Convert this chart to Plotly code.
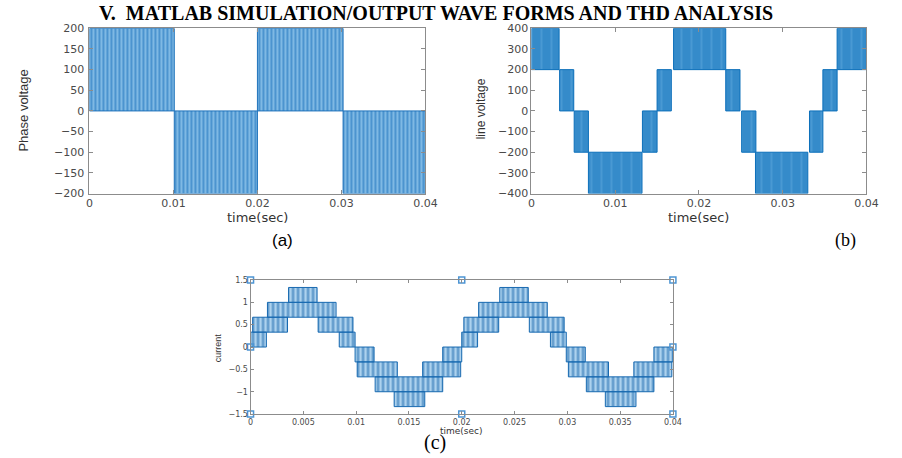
import plotly.graph_objects as go

W, H = 902, 458

# ---------------- data ----------------
# (a) phase voltage: PWM bands (start time, end time, low level, high level)
A_T0 = [0.0000, 0.0101, 0.0200, 0.0302]
A_T1 = [0.0101, 0.0200, 0.0302, 0.0400]
A_LO = [0, -200, 0, -200]
A_HI = [200, 0, 200, 0]

# (b) line voltage bands
B_T0 = [0.0000, 0.00336, 0.0051, 0.0068, 0.01325, 0.0150, 0.01697, 0.0232, 0.0251, 0.02675, 0.0332, 0.0348, 0.0365]
B_T1 = [0.00330, 0.00505, 0.0068, 0.0132, 0.0150, 0.0167, 0.0232, 0.0249, 0.0268, 0.0330, 0.0348, 0.0365, 0.0400]
B_LO = [200, 0, -200, -400, -200, 0, 200, 0, -200, -400, -200, 0, 200]
B_HI = [400, 200, 0, -200, 0, 200, 400, 200, 0, -200, 0, 200, 400]

# (c) current bands
C_T0 = [0.0000, 0.0002, 0.0016, 0.0036, 0.0064, 0.0084,
        0.0099, 0.0101, 0.0118, 0.0136, 0.0163, 0.0182,
        0.0200, 0.0202, 0.0216, 0.0236, 0.0264, 0.0284,
        0.0299, 0.0301, 0.0318, 0.0336, 0.0363, 0.0382]
C_T1 = [0.0015, 0.0035, 0.0081, 0.0063, 0.0097, 0.0099,
        0.0117, 0.0139, 0.0182, 0.0165, 0.0199, 0.0200,
        0.0215, 0.0235, 0.0281, 0.0263, 0.0297, 0.0299,
        0.0317, 0.0339, 0.0382, 0.0365, 0.0399, 0.0400]
C_LO = [0, 0.333, 0.667, 1.0, 0.333, 0,
        -0.333, -0.667, -1.0, -1.333, -0.667, -0.333,
        0, 0.333, 0.667, 1.0, 0.333, 0,
        -0.333, -0.667, -1.0, -1.333, -0.667, -0.333]
C_HI = [0.333, 0.667, 1.0, 1.333, 0.667, 0.333,
        0, -0.333, -0.667, -1.0, -0.333, 0,
        0.333, 0.667, 1.0, 1.333, 0.667, 0.333,
        0, -0.333, -0.667, -1.0, -0.333, 0]

# data-cursor markers in (c)
CUR_T = [0, 0.02, 0.04, 0, 0.04, 0, 0.02, 0.04]
CUR_Y = [1.5, 1.5, 1.5, 0, 0, -1.5, -1.5, -1.5]


def band_xy(t0s, t1s, los, his):
    xs, ys = [], []
    for t0, t1, lo, hi in zip(t0s, t1s, los, his):
        xs += [t0, t0, t1, t1, t0, None]
        ys += [lo, hi, hi, lo, lo, None]
    return xs, ys


def px_x(p):
    return p / W


def px_y(p):
    return 1 - p / H


fig = go.Figure()

ax, ay = band_xy(A_T0, A_T1, A_LO, A_HI)
fig.add_trace(go.Scatter(
    x=ax, y=ay, xaxis="x", yaxis="y", mode="lines", fill="toself",
    line=dict(color="#1f73bb", width=1),
    fillpattern=dict(shape="|", size=4, solidity=0.5, fgcolor="#1a6fb9", bgcolor="#7fb9e4"),
    hoverinfo="skip", showlegend=False))

bx, by = band_xy(B_T0, B_T1, B_LO, B_HI)
fig.add_trace(go.Scatter(
    x=bx, y=by, xaxis="x2", yaxis="y2", mode="lines", fill="toself",
    line=dict(color="#0c6fba", width=1),
    fillpattern=dict(shape="|", size=10, solidity=0.9, fgcolor="#0c6fba", bgcolor="#5ea7db"),
    hoverinfo="skip", showlegend=False))

cx, cy = band_xy(C_T0, C_T1, C_LO, C_HI)
fig.add_trace(go.Scatter(
    x=cx, y=cy, xaxis="x3", yaxis="y3", mode="lines", fill="toself",
    line=dict(color="#1769b0", width=1),
    fillpattern=dict(shape="|", size=5, solidity=0.5, fgcolor="#105fa8", bgcolor="#add2ee"),
    hoverinfo="skip", showlegend=False))

fig.add_trace(go.Scatter(
    x=CUR_T, y=CUR_Y, xaxis="x3", yaxis="y3", mode="markers",
    marker=dict(symbol="square-open", size=6, color="#4d95d3", line=dict(width=1.5)),
    cliponaxis=False, hoverinfo="skip", showlegend=False))

GRAY = "#8c8c8c"
big_tick = dict(family="DejaVu Sans", size=11, color="#4a4a4a")
small_tick = dict(family="DejaVu Sans", size=8, color="#4a4a4a")


def axis(domain, rng, dtick, anchor, font, ticklen, standoff=0):
    return dict(domain=domain, range=rng, dtick=dtick, tick0=0, anchor=anchor,
                showline=True, linecolor=GRAY, linewidth=1, mirror="ticks",
                ticks="inside", ticklen=ticklen, tickcolor=GRAY, tickwidth=1,
                showgrid=False, zeroline=False, tickfont=font, fixedrange=True,
                ticklabelstandoff=standoff)


fig.update_layout(
    width=W, height=H, margin=dict(l=0, r=0, t=0, b=0),
    paper_bgcolor="white", plot_bgcolor="white",
    xaxis=axis([px_x(87), px_x(429)], [0, 0.04], 0.01, "y", big_tick, 4, -1),
    yaxis=axis([px_y(193), px_y(23)], [-200, 200], 50, "x", big_tick, 4, 2),
    xaxis2=axis([px_x(537), px_x(878)], [0, 0.04], 0.01, "y2", big_tick, 4, -1),
    yaxis2=axis([px_y(193), px_y(23)], [-400, 400], 100, "x2", big_tick, 4),
    xaxis3=axis([px_x(251), px_x(681)], [0, 0.04], 0.005, "y3", small_tick, 3),
    yaxis3=axis([px_y(420), px_y(282)], [-1.5, 1.5], 0.5, "x3", small_tick, 3),
)

anns = [
    dict(text="<b>V.\u00a0 MATLAB SIMULATION/OUTPUT WAVE FORMS AND THD ANALYSIS</b>",
         x=px_x(440), y=px_y(7), font=dict(family="Liberation Serif", size=20, color="black")),
    dict(text="time(sec)", x=px_x(258), y=px_y(218), font=dict(family="DejaVu Sans", size=13, color="#333333")),
    dict(text="time(sec)", x=px_x(707), y=px_y(218), font=dict(family="DejaVu Sans", size=13, color="#333333")),
    dict(text="Phase voltage", x=px_x(20), y=px_y(108), textangle=-90,
         font=dict(family="Liberation Sans Narrow, Liberation Sans", size=13, color="#333333")),
    dict(text="line voltage", x=px_x(486), y=px_y(106), textangle=-90,
         font=dict(family="Liberation Sans Narrow, Liberation Sans", size=12, color="#333333")),
    dict(text="(a)", x=px_x(284), y=px_y(241), font=dict(family="Liberation Sans", size=17, color="black")),
    dict(text="(b)", x=px_x(857), y=px_y(241), font=dict(family="Liberation Serif", size=18, color="black")),
    dict(text="time(sec)", x=px_x(466), y=px_y(437), font=dict(family="DejaVu Sans", size=9, color="#333333")),
    dict(text="current", x=px_x(218), y=px_y(352), textangle=-90,
         font=dict(family="Liberation Sans Narrow, Liberation Sans", size=9, color="#333333")),
    dict(text="(c)", x=px_x(439), y=px_y(449), font=dict(family="Liberation Serif", size=20, color="black")),
]
for a in anns:
    a.update(xref="paper", yref="paper", showarrow=False, xanchor="center", yanchor="middle")
fig.update_layout(annotations=anns)

fig.write_html("out.html")
